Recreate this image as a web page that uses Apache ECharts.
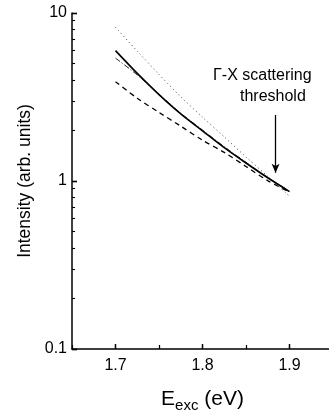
<!DOCTYPE html>
<html>
<head>
<meta charset="utf-8">
<script src="https://cdn.jsdelivr.net/npm/echarts@6/dist/echarts.min.js"></script>
<style>
html,body{margin:0;padding:0;background:#fff;}
#c{width:329px;height:418px;}
</style>
</head>
<body>
<div id="c"></div>
<script>
// Excitation energy (eV)
const energy = [1.70, 1.725, 1.75, 1.775, 1.80, 1.825, 1.85, 1.875, 1.90];
// Intensity curves (arb. units)
const solidCurve   = [5.97, 4.37, 3.27, 2.51, 1.99, 1.58, 1.28, 1.045, 0.865];
const dashDotCurve = [5.39, 4.28, 3.29, 2.53, 2.01, 1.60, 1.29, 1.05, 0.87];
const dashedCurve  = [3.90, 3.11, 2.56, 2.12, 1.75, 1.48, 1.22, 1.005, 0.86];
const dottedCurve  = [8.22, 5.93, 4.31, 3.17, 2.40, 1.83, 1.39, 1.065, 0.81];
// Tick values
const xMajorTicks = [1.7, 1.8, 1.9];
const xMinorTicks = [1.75, 1.85];
const yMajorTicks = [0.1, 1, 10];
const yMinorTicks = [0.2,0.3,0.4,0.5,0.6,0.7,0.8,0.9,2,3,4,5,6,7,8,9];
// Threshold arrow (E, intensity start -> end)
const arrowE = 1.884;
const arrowFrom = 2.47;
const arrowTo = 1.12;

const X_MIN = 1.65, X_MAX = 1.95, Y_MIN = 0.1, Y_MAX = 10;
const pair = (ys) => energy.map((e, i) => [e, ys[i]]);
const font = 'Liberation Sans, Arial, sans-serif';

// tick marks as short segments (length given in axis units)
const X_MAJOR_LEN = 0.0058, X_MINOR_LEN = 0.0035;   // along x (for y-axis ticks)
const Y_MAJOR_FAC = 1.071, Y_MINOR_FAC = 1.042;     // along log y (for x-axis ticks)
const tickStyle = (w) => ({color: '#000', width: w, type: 'solid'});
const tickLines = [].concat(
  yMajorTicks.map(v => [{coord: [X_MIN, v], lineStyle: tickStyle(1.4)}, {coord: [X_MIN + X_MAJOR_LEN, v]}]),
  yMinorTicks.map(v => [{coord: [X_MIN, v], lineStyle: tickStyle(1.1)}, {coord: [X_MIN + X_MINOR_LEN, v]}]),
  xMajorTicks.map(v => [{coord: [v, Y_MIN], lineStyle: tickStyle(1.4)}, {coord: [v, Y_MIN * Y_MAJOR_FAC]}]),
  xMinorTicks.map(v => [{coord: [v, Y_MIN], lineStyle: tickStyle(1.1)}, {coord: [v, Y_MIN * Y_MINOR_FAC]}])
);

const chart = echarts.init(document.getElementById('c'));
chart.setOption({
  animation: false,
  backgroundColor: '#ffffff',
  grid: {left: 72, top: 13, width: 261, height: 336, outerBoundsMode: 'none'},
  xAxis: {
    type: 'value', min: X_MIN, max: X_MAX, interval: 0.05,
    axisLine: {show: true, onZero: false, lineStyle: {color: '#000', width: 1.5}},
    axisTick: {show: true, inside: true, length: 4, lineStyle: {color: '#000', width: 1.2}},
    axisLabel: {show: true, customValues: xMajorTicks, color: '#000', fontSize: 16, fontFamily: font, margin: 9,
      formatter: v => v.toFixed(1)},
    splitLine: {show: false},
    name: '{e|E}{s|exc}{e| (eV)}', nameLocation: 'middle', nameGap: 37,
    nameTextStyle: {rich: {
      e: {fontSize: 21, fontFamily: font, color: '#000'},
      s: {fontSize: 15, fontFamily: font, color: '#000', padding: [12, 0, 0, 0]}
    }}
  },
  yAxis: {
    type: 'log', logBase: 10, min: Y_MIN, max: Y_MAX,
    axisLine: {show: true, lineStyle: {color: '#000', width: 1.5}},
    axisTick: {show: true, inside: true, length: 5, lineStyle: {color: '#000', width: 1.3}},
    axisLabel: {show: true, customValues: yMajorTicks, color: '#000', fontSize: 16, fontFamily: font, margin: 5,
      formatter: v => (v < 1 ? '0.1' : String(Math.round(v)))},
    splitLine: {show: false},
    name: 'Intensity (arb. units)', nameLocation: 'middle', nameGap: 37, nameRotate: 90,
    nameTextStyle: {fontSize: 17.5, fontFamily: font, color: '#000'}
  },
  series: [
    {type: 'line', data: pair(dottedCurve), symbol: 'none', smooth: 0.3,
      lineStyle: {color: '#444', width: 1, type: [1, 3]},
      markLine: {silent: true, symbol: ['none', 'none'], label: {show: false},
        animation: false, data: tickLines}},
    {type: 'line', data: pair(dashedCurve), symbol: 'none', smooth: 0.3,
      lineStyle: {color: '#000', width: 1.3, type: [5, 4]}},
    {type: 'line', data: pair(dashDotCurve), symbol: 'none', smooth: 0.3,
      lineStyle: {color: '#222', width: 1, type: [6, 2, 1, 2]}},
    {type: 'line', data: pair(solidCurve), symbol: 'none', smooth: 0.3,
      lineStyle: {color: '#000', width: 1.6},
      markLine: {
        silent: true, symbol: ['none', 'arrow'], symbolSize: [6, 9],
        label: {show: false},
        lineStyle: {color: '#000', width: 1.3, type: 'solid'},
        data: [[{coord: [arrowE, arrowFrom]}, {coord: [arrowE, arrowTo]}]]
      }}
  ],
  graphic: [
    {type: 'text', left: 213, top: 68, style: {text: 'Γ-X scattering', font: '16px ' + font, fill: '#000'}},
    {type: 'text', left: 240, top: 89, style: {text: 'threshold', font: '16px ' + font, fill: '#000'}}
  ]
});
</script>
</body>
</html>
